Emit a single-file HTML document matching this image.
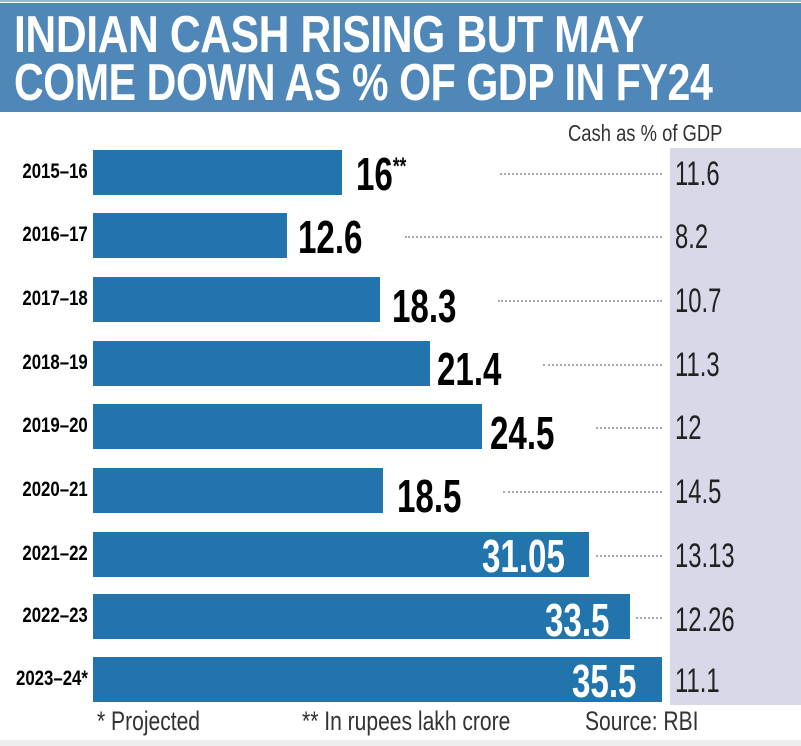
<!DOCTYPE html>
<html><head><style>
body{margin:0;width:801px;height:746px;background:#fff;position:relative;overflow:hidden;font-family:"Liberation Sans",sans-serif}
.hd{position:absolute;left:0;top:3px;width:801px;height:109px;background:#4f87b9}
.tl{position:absolute;left:0;top:0;width:801px;height:2px;background:#9ab8d6}
.t{position:absolute;left:14px;color:#fff;font-weight:bold;font-size:52px;line-height:50px;transform:scaleX(.82);transform-origin:left top;white-space:nowrap;letter-spacing:-0.5px}
.panel{position:absolute;left:670px;top:148px;width:131px;height:557px;background:#d7d9e8}
.bar{position:absolute;left:93px;height:45px;background:#2274ad}
.yl{position:absolute;right:713px;font-weight:bold;font-size:21px;transform:scaleX(.8);transform-origin:right center;white-space:nowrap}
.v{position:absolute;font-weight:bold;font-size:46px;line-height:45px;transform:scaleX(.72);transform-origin:left top;white-space:nowrap}
.r{position:absolute;left:675px;font-size:34px;line-height:45px;transform:scaleX(.7);transform-origin:left top;color:#222}
.d{position:absolute;height:0;border-top:2px dotted #aaa}
.f{position:absolute;top:706px;font-size:27px;transform:scaleX(.78);transform-origin:left top;color:#333;white-space:nowrap}
</style></head><body>
<div class="tl"></div>
<div class="hd"></div>
<div class="t" style="top:10px">INDIAN CASH RISING BUT MAY</div>
<div class="t" style="top:58px;transform:scaleX(.79)">COME DOWN AS % OF GDP IN FY24</div>
<div class="panel"></div>
<div style="position:absolute;left:568px;top:120px;font-size:23px;transform:scaleX(.8);transform-origin:left top;color:#333;white-space:nowrap">Cash as % of GDP</div>

<div class="bar" style="top:150px;width:249px"></div><div class="yl" style="top:160px">2015–16</div><div class="v" style="left:356px;top:152px">16<span style="font-size:24px;vertical-align:top;line-height:30px">**</span></div><div class="d" style="left:500px;width:162px;top:173px"></div><div class="r" style="top:152px">11.6</div>
<div class="bar" style="top:213px;width:194px"></div><div class="yl" style="top:223px">2016–17</div><div class="v" style="left:298px;top:215px">12.6</div><div class="d" style="left:405px;width:257px;top:236px"></div><div class="r" style="top:215px">8.2</div>
<div class="bar" style="top:277px;width:287px"></div><div class="yl" style="top:287px">2017–18</div><div class="v" style="left:392px;top:284px">18.3</div><div class="d" style="left:498px;width:164px;top:300px"></div><div class="r" style="top:279px">10.7</div>
<div class="bar" style="top:341px;width:337px"></div><div class="yl" style="top:351px">2018–19</div><div class="v" style="left:437px;top:347px">21.4</div><div class="d" style="left:543px;width:119px;top:364px"></div><div class="r" style="top:343px">11.3</div>
<div class="bar" style="top:404px;width:389px"></div><div class="yl" style="top:414px">2019–20</div><div class="v" style="left:490px;top:411px">24.5</div><div class="d" style="left:596px;width:66px;top:427px"></div><div class="r" style="top:406px">12</div>
<div class="bar" style="top:468px;width:290px"></div><div class="yl" style="top:478px">2020–21</div><div class="v" style="left:397px;top:474px">18.5</div><div class="d" style="left:503px;width:159px;top:491px"></div><div class="r" style="top:470px">14.5</div>
<div class="bar" style="top:532px;width:496px"></div><div class="yl" style="top:542px">2021–22</div><div class="v" style="left:482px;top:534px;color:#fff">31.05</div><div class="d" style="left:596px;width:66px;top:555px"></div><div class="r" style="top:534px">13.13</div>
<div class="bar" style="top:594px;width:537px"></div><div class="yl" style="top:604px">2022–23</div><div class="v" style="left:545px;top:598px;color:#fff">33.5</div><div class="d" style="left:636px;width:26px;top:617px"></div><div class="r" style="top:598px">12.26</div>
<div class="bar" style="top:657px;width:569px"></div><div class="yl" style="top:667px">2023–24*</div><div class="v" style="left:572px;top:659px;color:#fff">35.5</div><div class="r" style="top:659px">11.1</div>

<div class="f" style="left:97px">* Projected</div>
<div class="f" style="left:302px">** In rupees lakh crore</div>
<div class="f" style="left:585px">Source: RBI</div>
<div style="position:absolute;left:0;top:740px;width:801px;height:6px;background:#eee"></div>
</body></html>
